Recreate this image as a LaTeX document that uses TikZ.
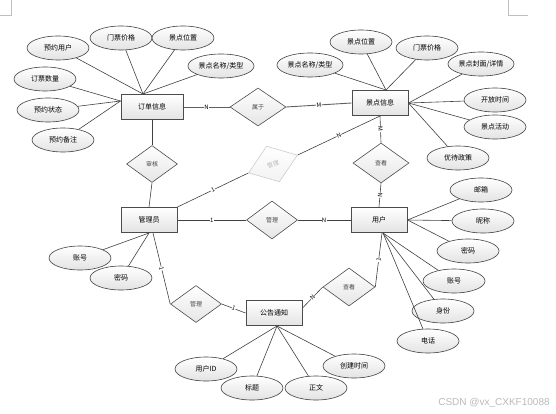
\documentclass[tikz,border=0pt]{standalone}
\usepackage{fontspec}
\setmainfont{Noto Sans CJK SC}
\newfontfamily\markfont{Liberation Sans}
\usepackage{tikz}
\usetikzlibrary{shapes.geometric}

\begin{document}
\begin{tikzpicture}[
    x=1pt, y=-1pt,
    entity/.style={draw=gray!60!black, line width=1pt, top color=white, bottom color=gray!22, minimum width=56pt, minimum height=25pt, font=\fontsize{7}{8}\selectfont},
    rel/.style={diamond, draw=black!70, line width=0.6pt, top color=white, bottom color=gray!20, minimum width=52pt, minimum height=38pt, inner sep=0pt, text=gray!55!black, font=\fontsize{6}{7}\selectfont},
    attr/.style={ellipse, draw=black!75, line width=0.6pt, top color=white, bottom color=gray!22, minimum width=62pt, minimum height=24pt, inner sep=1pt, font=\fontsize{7}{8}\selectfont},
    relline/.style={draw=gray!75!black, line width=0.9pt},
    attrline/.style={draw=black!75, line width=0.6pt},
    card/.style={midway, sloped, fill=white, inner sep=0.3pt, font=\fontsize{6}{7}\selectfont},
]
\useasboundingbox (0,0) rectangle (556,414);

% Page corner marks
\draw[gray!50, line width=0.5pt] (11,0) -- (11,15) -- (0,15);
\draw[gray!50, line width=0.5pt] (508,0) -- (508,15) -- (528,15);

% Entities
\node[entity, minimum width=62pt] (order) at (152,107) {订单信息};
\node[entity] (spot) at (380,103) {景点信息};
\node[entity] (admin) at (149,220) {管理员};
\node[entity] (user) at (379,220) {用户};
\node[entity] (notice) at (274,313) {公告通知};

% Relationships
\node[rel, minimum width=56pt] (belong) at (258,107) {属于};
\node[rel, minimum width=51pt, minimum height=37pt] (audit) at (152,164) {审核};
\node[rel, rotate=20, draw=gray!40, bottom color=gray!10, text=gray!55] (manageSpot) at (273,164) {管理};
\node[rel, minimum width=51pt] (manageUser) at (272,220) {管理};
\node[rel, minimum width=51pt, minimum height=37pt] (manageNotice) at (196,304) {管理};
\node[rel, minimum width=56pt, minimum height=40pt] (viewSpot) at (381,163) {查看};
\node[rel] (viewNotice) at (349,287) {查看};

% Order attributes
\node[attr] (oUser) at (58,48) {预约用户};
\node[attr] (oPrice) at (121,38) {门票价格};
\node[attr] (oPlace) at (183,38) {景点位置};
\node[attr] (oName) at (221,66) {景点名称/类型};
\node[attr] (oCount) at (45,79) {订票数量};
\node[attr] (oState) at (48,110) {预约状态};
\node[attr] (oNote) at (63,140) {预约备注};

% Spot attributes
\node[attr] (sName) at (310,65) {景点名称/类型};
\node[attr] (sPlace) at (361,42) {景点位置};
\node[attr] (sPrice) at (427,48) {门票价格};
\node[attr] (sCover) at (481,64) {景点封面/详情};
\node[attr] (sOpen) at (495,100) {开放时间};
\node[attr] (sEvent) at (495,127) {景点活动};
\node[attr] (sPolicy) at (458,158) {优待政策};

% User attributes
\node[attr] (uMail) at (481,190) {邮箱};
\node[attr] (uNick) at (483,221) {昵称};
\node[attr] (uPwd) at (468,251) {密码};
\node[attr] (uAcct) at (454,281) {账号};
\node[attr] (uRole) at (443,311) {身份};
\node[attr] (uPhone) at (428,341) {电话};

% Admin attributes
\node[attr] (aAcct) at (80,258) {账号};
\node[attr] (aPwd) at (121,278) {密码};

% Notice attributes
\node[attr] (nUser) at (206,369) {用户ID};
\node[attr] (nTitle) at (252,388) {标题};
\node[attr] (nBody) at (316,388) {正文};
\node[attr] (nTime) at (354,366) {创建时间};

% Relationship lines
\draw[relline] (order.east) -- (belong.west) node[card] {N};
\draw[relline] (belong.east) -- (spot.west) node[card] {M};
\draw[attrline] (order.south) -- (audit.north);
\draw[attrline] (audit.south) -- (admin.north);
\draw[attrline] (admin.north east) -- (manageSpot.west) node[card] {1};
\draw[attrline] (manageSpot.east) -- (spot.south) node[card] {N};
\draw[attrline] (spot.south) -- (viewSpot.north) node[card] {M};
\draw[attrline] (viewSpot.south) -- (user.north) node[card] {N};
\draw[attrline] (admin.east) -- (manageUser.west) node[card] {1};
\draw[attrline] (manageUser.east) -- (user.west) node[card] {N};
\draw[attrline] ([xshift=4pt]admin.south) -- (manageNotice.west) node[card] {1};
\draw[attrline] (manageNotice.east) -- (notice.west) node[card] {1};
\draw[attrline] ([yshift=-8pt]notice.north east) -- (viewNotice.west) node[card] {N};
\draw[attrline] (viewNotice.east) -- ([xshift=3pt]user.south) node[card] {1};

% Attribute lines
\foreach \a in {oUser, oPrice, oPlace, oName}
    \draw[attrline] (\a) -- ([xshift=-9pt]order.north);
\foreach \a in {oCount, oState, oNote}
    \draw[attrline] (\a) -- ([yshift=6pt]order.west);
\foreach \a in {sName, sPlace, sPrice}
    \draw[attrline] (\a) -- ([xshift=6pt]spot.north);
\foreach \a in {sCover, sOpen, sEvent, sPolicy}
    \draw[attrline] (\a) -- (spot.east);
\foreach \a in {uMail, uNick, uPwd}
    \draw[attrline] (\a) -- (user.east);
\foreach \a in {uAcct, uRole, uPhone}
    \draw[attrline] (\a) -- ([xshift=4pt]user.south);
\foreach \a in {aAcct, aPwd}
    \draw[attrline] (\a) -- (admin.south);
\foreach \a in {nUser, nTitle, nBody, nTime}
    \draw[attrline] (\a) -- ([xshift=3pt]notice.south);

% Watermark
\node[font=\markfont\fontsize{10}{12}\selectfont, text=gray!55] (mark) at (494,403) {CSDN @vx\_CXKF10088};

\end{tikzpicture}
\end{document}
